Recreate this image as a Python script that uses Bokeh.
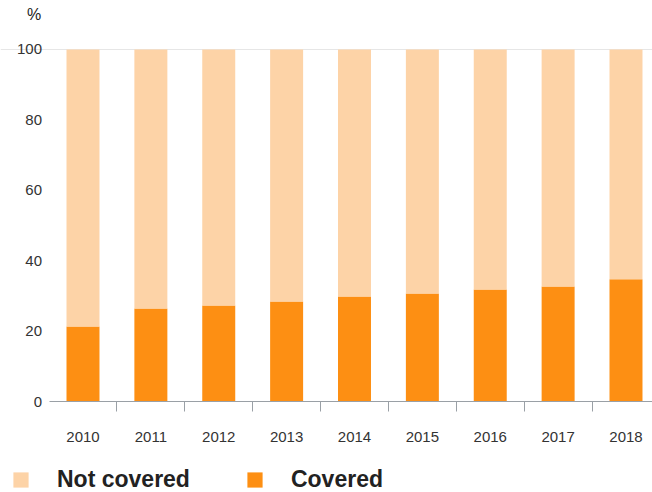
from bokeh.plotting import figure
from bokeh.models import (ColumnDataSource, Range1d, FixedTicker, Legend, LegendItem, Label)
from bokeh.embed import file_html
from bokeh.resources import INLINE

years = ["2010", "2011", "2012", "2013", "2014", "2015", "2016", "2017", "2018"]
covered = [21.3, 26.4, 27.3, 28.4, 29.8, 30.7, 31.8, 32.7, 34.7]
not_covered = [100 - c for c in covered]
y_ticks = [0, 20, 40, 60, 80, 100]

LIGHT = "#fdd3a7"
DARK = "#fd8f13"
FONT = "Liberation Sans"

xs = list(range(len(years)))
src = ColumnDataSource(dict(x=xs, covered=covered, not_covered=not_covered))

# frame fills the whole canvas; axes are drawn at fixed locations inside it
X0, X1 = -1.2154, 8.3905
Y0, Y1 = -25.85, 113.92

p = figure(width=652, height=492, output_backend="svg", toolbar_location=None,
           x_range=Range1d(X0, X1), y_range=Range1d(Y0, Y1),
           min_border_left=0, min_border_right=0, min_border_top=0,
           min_border_bottom=0, outline_line_color=None)

r = p.vbar_stack(["covered", "not_covered"], x="x", width=0.486, source=src,
                 color=[DARK, LIGHT], line_color=None)

p.xgrid.visible = False
yg = p.ygrid[0]
yg.ticker = FixedTicker(ticks=[100])
yg.bounds = (-0.5, X1)
yg.grid_line_color = "#e6e6e6"

xa = p.xaxis[0]
xa.fixed_location = 0
xa.bounds = (-0.5, X1)
xa.ticker = FixedTicker(ticks=xs, minor_ticks=[i + 0.5 for i in xs[:-1]])
xa.major_label_overrides = {i: y for i, y in enumerate(years)}
xa.major_tick_line_color = None
xa.major_tick_out = 10
xa.major_tick_in = 0
xa.minor_tick_out = 10
xa.minor_tick_in = 0
xa.minor_tick_line_color = "#9aa0a6"
xa.axis_line_color = "#9aa0a6"
xa.major_label_standoff = 20
xa.major_label_text_font = FONT
xa.major_label_text_font_size = "15px"
xa.major_label_text_color = "#333333"

ya = p.yaxis[0]
ya.fixed_location = -0.5
ya.bounds = (0, 100)
ya.ticker = FixedTicker(ticks=y_ticks)
ya.axis_line_color = None
ya.major_tick_line_color = None
ya.minor_tick_line_color = None
ya.major_tick_out = 0
ya.major_tick_in = 0
ya.major_label_standoff = 7
ya.major_label_text_font = FONT
ya.major_label_text_font_size = "15px"
ya.major_label_text_color = "#333333"

p.add_layout(Label(x=-0.719, y=109.94, text="%", text_align="center",
                   text_baseline="middle", text_font=FONT, text_font_size="16px",
                   text_color="#222222"))

legend = Legend(items=[LegendItem(label="Not covered", renderers=[r[1]]),
                       LegendItem(label="Covered", renderers=[r[0]])],
                orientation="horizontal", location=(11, -1),
                glyph_width=19, glyph_height=19, label_standoff=27, spacing=55,
                padding=0, margin=0, border_line_color=None,
                label_text_font=FONT, label_text_font_size="23px",
                label_text_font_style="bold", label_text_color="#222222",
                background_fill_alpha=0)
p.add_layout(legend, "center")

open("out.html", "w").write(file_html(p, INLINE))
